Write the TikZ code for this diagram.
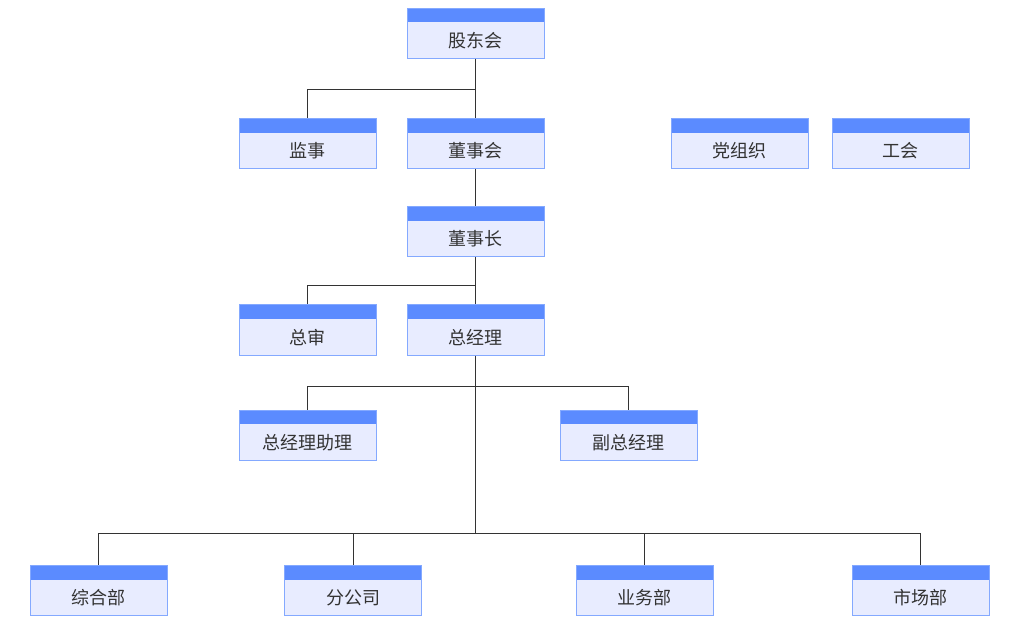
\documentclass[tikz,border=0pt]{standalone}
\usepackage{fontspec}
\newfontfamily\cjk{Noto Sans CJK SC}
\usetikzlibrary{calc}
\definecolor{boxhead}{HTML}{5B8BFF}
\definecolor{boxbody}{HTML}{E8ECFF}
\definecolor{boxline}{HTML}{84A9FF}
\definecolor{txt}{HTML}{333333}
\tikzset{
  orgbox/.style={rectangle, draw=boxline, line width=1pt, fill=boxbody,
    minimum width=137pt, inner sep=0pt, text height=39pt, text depth=11pt,
    font=\cjk\fontsize{18}{18}\selectfont, text=txt,
    path picture={\fill[boxhead] (path picture bounding box.north west)
      rectangle ([yshift=-14pt]path picture bounding box.north east);}},
  link/.style={draw=txt, line width=1pt}
}
\begin{document}
\begin{tikzpicture}[x=1pt, y=-1pt]
\useasboundingbox (0,0) rectangle (1018,631);
% top levels
\node[orgbox] (gdh) at (475.5,33.5) {股东会};
\node[orgbox] (js) at (307.5,144) {监事};
\node[orgbox] (dsh) at (475.5,144) {董事会};
\node[orgbox] (dzz) at (739.5,144) {党组织};
\node[orgbox] (gh) at (900.5,144) {工会};
\node[orgbox] (dsz) at (475.5,232) {董事长};
\node[orgbox] (zs) at (307.5,330) {总审};
\node[orgbox] (zjl) at (475.5,330) {总经理};
\node[orgbox] (zjlzl) at (307.5,435) {总经理助理};
\node[orgbox] (fzjl) at (628.5,435) {副总经理};
% departments
\foreach \x/\n/\t in {98.5/zhb/综合部, 353/fgs/分公司, 644.5/ywb/业务部, 920.5/scb/市场部} {
  \node[orgbox] (\n) at (\x,590.5) {\t};
}
% bars
\coordinate (b1) at (475.5,90);
\coordinate (b2) at (475.5,286);
\coordinate (b3) at (475.5,386);
\coordinate (b4) at (475.5,533);
\draw[link] (gdh.south) -- (dsh.north);
\draw[link] (b1) -| (js.north);
\draw[link] (dsh.south) -- (dsz.north);
\draw[link] (dsz.south) -- (zjl.north);
\draw[link] (b2) -| (zs.north);
\draw[link] (zjl.south) -- (b4);
\draw[link] (b3) -| (zjlzl.north);
\draw[link] (b3) -| (fzjl.north);
\foreach \n in {zhb,fgs,ywb,scb}
  \draw[link] (b4) -| (\n.north);
\end{tikzpicture}
\end{document}
